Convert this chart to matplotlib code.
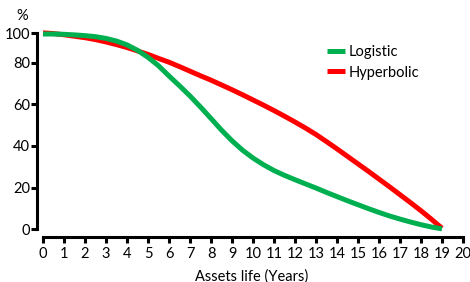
import numpy as np
import matplotlib
matplotlib.use("Agg")
import matplotlib.pyplot as plt

plt.rcParams['font.family'] = ['Lato', 'DejaVu Sans']

years = [0, 0.5, 1, 1.5, 2, 2.5, 3, 3.5, 4, 4.5, 5, 5.5, 6, 6.5, 7, 7.5, 8, 8.5, 9, 9.5,
         10, 10.5, 11, 11.5, 12, 12.5, 13, 13.5, 14, 14.5, 15, 15.5, 16, 16.5, 17, 17.5,
         18, 18.5, 19]
logistic = [99.5, 99.5, 99.3, 98.9, 98.4, 97.7, 96.5, 94.7, 92.1, 88.4, 83.6, 78.5, 73.6, 68.9,
            64, 58.7, 53.2, 47.6, 42.5, 38, 34.2, 31, 28.2, 25.9, 23.8, 21.8, 19.8, 17.7,
            15.7, 13.7, 11.8, 9.9, 8.1, 6.4, 4.9, 3.5, 2.2, 1.1, 0.2]
hyperbolic = [100.3, 99.8, 99, 98, 97, 95.7, 94.1, 92.3, 90.3, 88, 85.6, 82.9, 80.3, 78.1,
              75.9, 73.7, 71.6, 69.3, 67, 64.6, 62.1, 59.6, 57, 54.3, 51.5, 48.6, 45.5, 42.1,
              38.6, 35, 31.4, 27.8, 24.1, 20.4, 16.6, 12.8, 8.9, 4.8, 0.5]
xticks = list(range(0, 21))
yticks = [0, 20, 40, 60, 80, 100]

# top segment (80-100) is drawn compressed on the original
K = 0.705
def fwd(y):
    y = np.asarray(y, dtype=float)
    return np.where(y <= 80, y, 80 + (y - 80) * K)
def inv(v):
    v = np.asarray(v, dtype=float)
    return np.where(v <= 80, v, 80 + (v - 80) / K)

fig = plt.figure(figsize=(4.7, 2.82), dpi=100)
ax = fig.add_axes([37/470, 45/282, 430/470, 209/282])
ax.set_yscale('function', functions=(fwd, inv))

ax.plot(years, logistic, color='#00B050', lw=3.6, label='Logistic', solid_capstyle='butt',
        solid_joinstyle='round', zorder=3)
ax.plot(years, hyperbolic, color='#FF0000', lw=3.6, label='Hyperbolic', solid_capstyle='butt',
        solid_joinstyle='round', zorder=2)

ax.set_xlim(-0.286, 20.19)
ax.set_ylim(-3.7, 103.6)
ax.set_xticks(xticks)
ax.set_yticks(yticks)
ax.spines['top'].set_visible(False)
ax.spines['right'].set_visible(False)
ax.spines['left'].set_bounds(0, 100)
ax.spines['bottom'].set_bounds(0, 20)
for s in ['left', 'bottom']:
    ax.spines[s].set_linewidth(2.2)
ax.tick_params(width=2.2, length=4, labelsize=10.5, colors='black')
ax.tick_params(axis='y', pad=1)
ax.tick_params(axis='x', pad=3)
ax.minorticks_off()

ax.set_xlabel('Assets life (Years)', fontsize=10.5, labelpad=6)
fig.text(22/470, 1 - 16/282, '%', fontsize=10.5, ha='center', va='center')

ax.legend(loc='upper left', bbox_to_anchor=(327/470, 1 - 45/282), bbox_transform=fig.transFigure,
          frameon=False, fontsize=10.5, handlelength=1.2, handletextpad=0.3,
          labelspacing=0.45, borderaxespad=0, borderpad=0)

fig.savefig('out.png', dpi=100)
